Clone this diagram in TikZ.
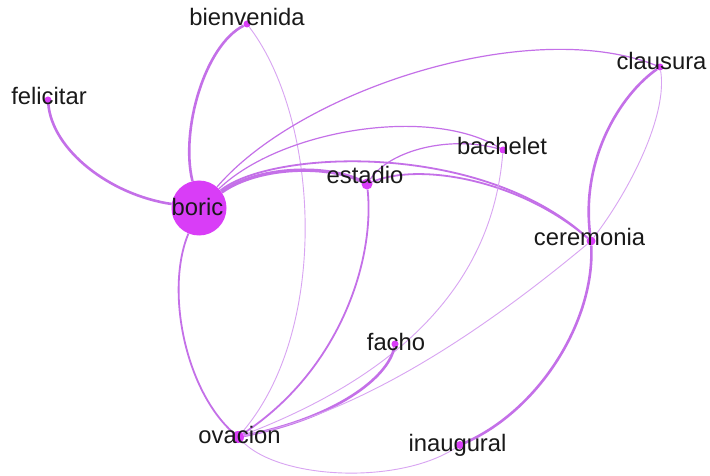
\documentclass[tikz,border=0pt]{standalone}
\usepackage{fontspec}
\setmainfont{Liberation Sans}
\definecolor{nodecol}{RGB}{217,61,247}
\definecolor{edgecol}{RGB}{196,112,232}
\definecolor{edgelt}{RGB}{216,164,242}
\pgfdeclarelayer{bg}
\pgfdeclarelayer{edges}
\pgfsetlayers{bg,edges,main}
\begin{document}
\begin{tikzpicture}[x=1pt,y=-1pt,
  dotnode/.style={circle,fill=nodecol,inner sep=0pt,minimum size=#1},
  dotnode/.default=8pt,
  lbl/.style={font=\fontsize{23.8}{28}\selectfont,text=black!90,anchor=base,inner sep=0pt},
  lnkA/.style={draw=edgecol,line width=2.6pt},
  lnkB/.style={draw=edgecol,line width=1.8pt},
  lnkM/.style={draw=edgecol,line width=1.2pt},
  lnkC/.style={draw=edgelt,line width=0.9pt}]
\useasboundingbox (0,0) rectangle (710,476);
\begin{pgfonlayer}{bg}
\fill[white] (0,0) rectangle (710,476);
\end{pgfonlayer}
% nodes
\node[dotnode=55pt] (boric) at (199,208) {};
\node[dotnode=7pt] (felicitar) at (48,100) {};
\node[dotnode=7pt] (bienvenida) at (247,24) {};
\node[dotnode=11pt] (estadio) at (367,184) {};
\node[dotnode=7pt] (bachelet) at (503,150) {};
\node[dotnode=7pt] (clausura) at (660,67) {};
\node[dotnode=9pt] (ceremonia) at (591,241) {};
\node[dotnode=7pt] (facho) at (395,344) {};
\node[dotnode=12pt] (ovacion) at (238,437) {};
\node[dotnode=8pt] (inaugural) at (460,445) {};
% labels
\node[lbl] (boric-l) at (197.5,215) {boric};
\node[lbl] (felicitar-l) at (49,105) {felicitar};
\node[lbl] (bienvenida-l) at (247,26) {bienvenida};
\node[lbl] (estadio-l) at (365,184) {estadio};
\node[lbl] (bachelet-l) at (502,155) {bachelet};
\node[lbl] (clausura-l) at (661.5,70) {clausura};
\node[lbl] (ceremonia-l) at (589.5,245) {ceremonia};
\node[lbl] (facho-l) at (396,350) {facho};
\node[lbl] (ovacion-l) at (239.5,443) {ovacion};
\node[lbl] (inaugural-l) at (457.5,451) {inaugural};
% edges
\begin{pgfonlayer}{edges}
\draw[lnkA] (felicitar) .. controls (52,150) and (110,195) .. (boric);
\draw[lnkA] (bienvenida) .. controls (205,45) and (180,130) .. (boric);
\draw[lnkC] (bienvenida) .. controls (320,120) and (330,330) .. (ovacion);
\draw[lnkB] (boric) .. controls (165,290) and (185,390) .. (ovacion);
\draw[lnkM] (boric) .. controls (300,90) and (530,15) .. (clausura);
\draw[lnkM] (boric) .. controls (280,130) and (430,105) .. (bachelet);
\draw[lnkM] (estadio) .. controls (390,150) and (450,135) .. (bachelet);
\draw[lnkA,line width=3.4pt] (boric) .. controls (260,165) and (330,165) .. (estadio);
\draw[lnkB] (boric) .. controls (270,150) and (480,140) .. (ceremonia);
\draw[lnkB] (estadio) .. controls (420,162) and (520,180) .. (ceremonia);
\draw[lnkB] (estadio) .. controls (375,260) and (340,370) .. (ovacion);
\draw[lnkC] (bachelet) .. controls (495,250) and (440,360) .. (ovacion);
\draw[lnkA] (facho) .. controls (388,378) and (335,418) .. (ovacion);
\draw[lnkC] (ceremonia) .. controls (520,300) and (380,410) .. (ovacion);
\draw[lnkA] (ceremonia) .. controls (580,160) and (620,95) .. (clausura);
\draw[lnkC] (ceremonia) .. controls (630,190) and (668,115) .. (clausura);
\draw[lnkA] (ceremonia) .. controls (595,320) and (540,410) .. (inaugural);
\draw[lnkC] (ovacion) .. controls (280,480) and (400,485) .. (inaugural);
\end{pgfonlayer}
\end{tikzpicture}
\end{document}
